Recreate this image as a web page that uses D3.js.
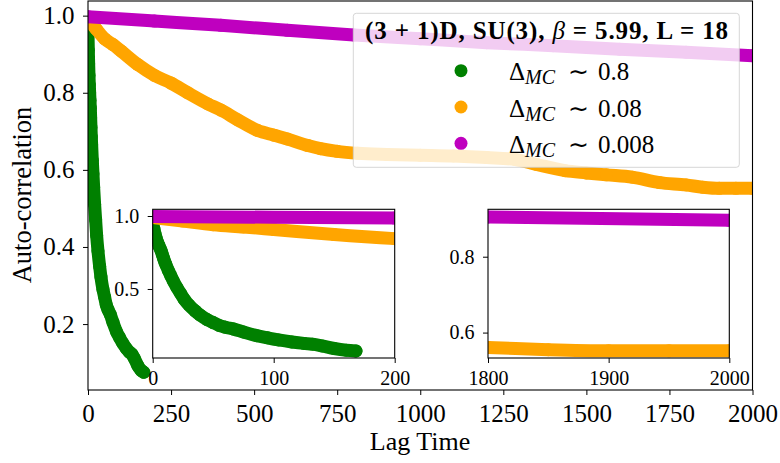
<!DOCTYPE html>
<html>
<head>
<meta charset="utf-8">
<script src="https://cdn.jsdelivr.net/npm/d3@7"></script>
<style>
body { margin: 0; background: #fff; }
svg { display: block; }
svg text { font-family: "Liberation Serif", "Times New Roman", serif; }
</style>
</head>
<body>
<svg id="chart" width="780" height="463"></svg>
<script>
// values (lag time, auto-correlation)
var greenLag = [0, 1, 2, 3, 4, 5, 6, 7, 8, 9, 10, 11, 13, 15, 17, 20, 23, 26, 30, 35, 39, 45, 50, 55, 60, 67, 75, 86, 95, 104, 115, 125, 132, 140, 150, 160, 168];
var greenVal = [0.955, 0.91, 0.875, 0.845, 0.82, 0.80, 0.78, 0.76, 0.735, 0.71, 0.685, 0.665, 0.625, 0.59, 0.555, 0.51, 0.47, 0.43, 0.39, 0.35, 0.322, 0.29, 0.27, 0.25, 0.238, 0.225, 0.205, 0.18, 0.165, 0.151, 0.137, 0.127, 0.122, 0.11, 0.092, 0.08, 0.075];

var orangeLag = [0, 25, 50, 75, 100, 150, 200, 250, 300, 361, 400, 450, 511, 560, 600, 662, 700, 750, 812, 900, 1000, 1100, 1200, 1286, 1350, 1436, 1500, 1560, 1638, 1720, 1800, 1850, 1900, 1950, 2000];
var orangeVal = [0.99, 0.965, 0.94, 0.925, 0.908, 0.873, 0.845, 0.825, 0.80, 0.771, 0.755, 0.73, 0.702, 0.69, 0.68, 0.663, 0.655, 0.648, 0.643, 0.64, 0.638, 0.636, 0.632, 0.627, 0.614, 0.598, 0.592, 0.587, 0.581, 0.567, 0.561, 0.555, 0.552, 0.552, 0.552];

var purpleLag = [0, 200, 400, 600, 800, 1000, 1200, 1400, 1600, 1800, 2000];
var purpleVal = [0.997, 0.986, 0.975, 0.962, 0.95, 0.94, 0.93, 0.922, 0.913, 0.905, 0.896];

var seriesLabels = ["0.8", "0.08", "0.008"];
var seriesColors = ["green", "orange", "#bf00bf"];

var mainXTicks = [0, 250, 500, 750, 1000, 1250, 1500, 1750, 2000],
    mainYTicks = [0.2, 0.4, 0.6, 0.8, 1.0],
    zoomAXTicks = [0, 100, 200],
    zoomAYTicks = [0.5, 1.0],
    zoomBXTicks = [1800, 1900, 2000],
    zoomBYTicks = [0.6, 0.8];

function make_series(lags, vals) {
    return lags.map(function (d, i) { return { lag: d, val: vals[i] }; });
}

var series = [
    make_series(greenLag, greenVal),
    make_series(orangeLag, orangeVal),
    make_series(purpleLag, purpleVal)
];

var svg = d3.select("#chart");

function add_panel(svgobj, id, box, xDomain, yDomain, xTicks, yTicks, fs, xPad) {
    var x = d3.scaleLinear().domain(xDomain).range([box.x0, box.x1]),
        y = d3.scaleLinear().domain(yDomain).range([box.y1, box.y0]);

    svgobj.append("clipPath").attr("id", id)
        .append("rect")
        .attr("x", box.x0).attr("y", box.y0)
        .attr("width", box.x1 - box.x0).attr("height", box.y1 - box.y0);

    svgobj.append("rect")
        .attr("x", box.x0).attr("y", box.y0)
        .attr("width", box.x1 - box.x0).attr("height", box.y1 - box.y0)
        .attr("fill", "#fff");

    var g = svgobj.append("g").attr("clip-path", "url(#" + id + ")");
    var line = d3.line()
        .x(function (d) { return x(d.lag); })
        .y(function (d) { return y(d.val); })
        .curve(d3.curveMonotoneX);

    series.forEach(function (s, i) {
        g.append("path")
            .datum(s)
            .attr("d", line)
            .attr("fill", "none")
            .attr("stroke", seriesColors[i])
            .attr("stroke-width", 13)
            .attr("stroke-linecap", "round")
            .attr("stroke-linejoin", "round");
        g.selectAll(null)
            .data(s)
            .enter().append("circle")
            .attr("cx", function (d) { return x(d.lag); })
            .attr("cy", function (d) { return y(d.val); })
            .attr("r", 6.5)
            .attr("fill", seriesColors[i]);
    });

    var xa = svgobj.append("g")
        .attr("transform", "translate(0," + box.y1 + ")")
        .call(d3.axisBottom(x).tickValues(xTicks).tickSize(5).tickSizeOuter(0).tickPadding(xPad)
            .tickFormat(d3.format("d")));
    var ya = svgobj.append("g")
        .attr("transform", "translate(" + box.x0 + ",0)")
        .call(d3.axisLeft(y).tickValues(yTicks).tickSize(5).tickSizeOuter(0).tickPadding(8.5)
            .tickFormat(d3.format(".1f")));

    [xa, ya].forEach(function (a) {
        a.select(".domain").remove();
        a.attr("font-family", null).attr("font-size", fs);
        a.selectAll("line").attr("stroke", "#000").attr("stroke-width", 1);
        a.selectAll("text").attr("fill", "#000");
    });

    svgobj.append("rect")
        .attr("x", box.x0).attr("y", box.y0)
        .attr("width", box.x1 - box.x0).attr("height", box.y1 - box.y0)
        .attr("fill", "none")
        .attr("stroke", "#000")
        .attr("stroke-width", 1.1);
}

// main axes
add_panel(svg, "clipMain", { x0: 88, x1: 752.5, y0: 1, y1: 390 },
    [0, 2000], [0.029, 1.038], mainXTicks, mainYTicks, 25, 9);

// zoom on the start
add_panel(svg, "clipA", { x0: 152.7, x1: 394.7, y0: 209.3, y1: 358 },
    [0, 200], [0.027, 1.046], zoomAXTicks, zoomAYTicks, 20, 8);

// zoom on the end
add_panel(svg, "clipB", { x0: 488, x1: 729.3, y0: 209.3, y1: 358 },
    [1800, 2000], [0.533, 0.925], zoomBXTicks, zoomBYTicks, 20, 8);

// axis labels
svg.append("text")
    .attr("x", 420).attr("y", 450)
    .attr("text-anchor", "middle")
    .attr("font-size", 26)
    .text("Lag Time");

svg.append("text")
    .attr("transform", "translate(31,195) rotate(-90)")
    .attr("text-anchor", "middle")
    .attr("font-size", 26.5)
    .text("Auto-correlation");

// legend
var lg = svg.append("g");
lg.append("rect")
    .attr("x", 353.3).attr("y", 13.3)
    .attr("width", 386).attr("height", 154)
    .attr("rx", 3)
    .attr("fill", "#fff").attr("fill-opacity", 0.8)
    .attr("stroke", "#cccccc").attr("stroke-opacity", 0.8);

var title = lg.append("text")
    .attr("x", 546.5).attr("y", 39)
    .attr("text-anchor", "middle")
    .attr("font-size", 25)
    .attr("font-weight", "bold")
    .attr("textLength", 363);
title.append("tspan").text("(3 + 1)D, SU(3), ");
title.append("tspan").attr("font-weight", "normal").attr("font-style", "italic").text("β");
title.append("tspan").text(" = 5.99, L = 18");

seriesLabels.forEach(function (lab, i) {
    var yy = 70.7 + i * 36.3;
    lg.append("circle")
        .attr("cx", 461).attr("cy", yy).attr("r", 6.5)
        .attr("fill", seriesColors[i]);
    var t = lg.append("text").attr("y", yy + 9.5).attr("font-size", 25);
    t.append("tspan").attr("x", 509).text("Δ");
    t.append("tspan").attr("dy", 4).attr("font-size", 20).attr("font-style", "italic").text("MC");
    t.append("tspan").attr("x", 568).attr("dy", -4).text("∼");
    t.append("tspan").attr("x", 598).text(lab);
});
</script>
</body>
</html>
